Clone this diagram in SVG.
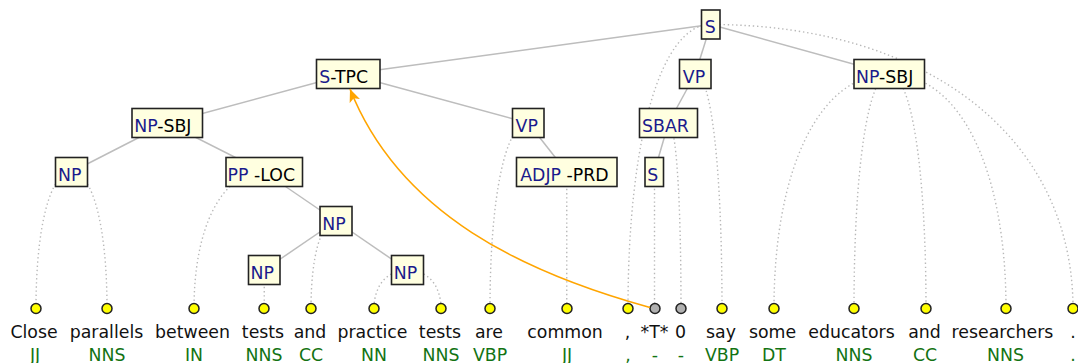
<svg xmlns="http://www.w3.org/2000/svg" width="1078" height="363" viewBox="0 0 1078 363">
<defs>
<style>
.box{fill:#ffffe0;stroke:#222;stroke-width:1.6}
.lbl{font-family:"DejaVu Sans",sans-serif;font-size:17.33px;fill:#000}
.cat{fill:#1a1a8c}
.edge{stroke:#bdbdbd;stroke-width:1.5;fill:none}
.dot{stroke:#b8b8b8;stroke-width:1.4;stroke-dasharray:1.4 2.8;fill:none}
.tok{fill:#ffff00;stroke:#222;stroke-width:1.5}
.emp{fill:#b0b0b0;stroke:#222;stroke-width:1.5}
.word{font-family:"DejaVu Sans",sans-serif;font-size:17.33px;fill:#111;text-anchor:middle}
.tag{font-family:"DejaVu Sans",sans-serif;font-size:17.33px;fill:#137313;text-anchor:middle}
.trace{stroke:#ffa500;stroke-width:1.6;fill:none}
</style>
<marker id="arr" markerUnits="userSpaceOnUse" markerWidth="14" markerHeight="12" refX="13" refY="5.5" orient="auto">
<path d="M0,0 L13,5.5 L0,11 L3,5.5 Z" fill="#ffa500"/>
</marker>
</defs>
<rect width="1078" height="363" fill="#fff"/>
<g id="connectors">
<line class="edge" x1="710.75" y1="24.5" x2="348.25" y2="74"/>
<line class="edge" x1="710.75" y1="24.5" x2="695.25" y2="74"/>
<line class="edge" x1="710.75" y1="24.5" x2="889.25" y2="74"/>
<line class="edge" x1="348.25" y1="74" x2="167.25" y2="123"/>
<line class="edge" x1="348.25" y1="74" x2="528.25" y2="123"/>
<line class="edge" x1="167.25" y1="123" x2="71.5" y2="172"/>
<line class="edge" x1="167.25" y1="123" x2="264.25" y2="172"/>
<line class="edge" x1="264.25" y1="172" x2="336" y2="221"/>
<line class="edge" x1="336" y1="221" x2="264.25" y2="270"/>
<line class="edge" x1="336" y1="221" x2="407.5" y2="270"/>
<line class="edge" x1="528.25" y1="123" x2="566.75" y2="172"/>
<line class="edge" x1="695.25" y1="74" x2="668.5" y2="123"/>
<line class="edge" x1="668.5" y1="123" x2="654.25" y2="172"/>
<path class="dot" d="M71.5,172 C50.2,172 36,226.6 36,308.5"/>
<path class="dot" d="M71.5,172 C92.8,172 107,226.6 107,308.5"/>
<path class="dot" d="M264.25,172 C222.1,172 194,226.6 194,308.5"/>
<path class="dot" d="M336,221 C321,221 311,256 311,308.5"/>
<path class="dot" d="M264.25,270 L264.25,308.5"/>
<path class="dot" d="M407.5,270 C387.4,270 374,285.4 374,308.5"/>
<path class="dot" d="M407.5,270 C427.6,270 441,285.4 441,308.5"/>
<path class="dot" d="M528.25,123 C505.3,123 490,197.2 490,308.5"/>
<path class="dot" d="M566.75,172 L566.75,308.5"/>
<path class="dot" d="M710.75,24.5 C661.1,24.5 628,138.1 628,308.5"/>
<path class="dot" d="M654.5,172 L654.5,308.5"/>
<path class="dot" d="M668.5,123 C676,123 681,197.2 681,308.5"/>
<path class="dot" d="M695.25,74 C711.3,74 722,167.8 722,308.5"/>
<path class="dot" d="M889.25,74 C820.1,74 774,167.8 774,308.5"/>
<path class="dot" d="M889.25,74 C868.1,74 854,167.8 854,308.5"/>
<path class="dot" d="M889.25,74 C911.3,74 926,167.8 926,308.5"/>
<path class="dot" d="M889.25,74 C959.3,74 1006,167.8 1006,308.5"/>
<path class="dot" d="M710.75,24.5 C928.1,24.5 1073,138.1 1073,308.5"/>
</g>
<g id="n-S"><rect class="box" x="701.5" y="10" width="18.5" height="29"/><text class="lbl" x="704.7" y="33"><tspan class="cat">S</tspan></text></g>
<g id="n-VP1"><rect class="box" x="679.5" y="59.5" width="31.5" height="29"/><text class="lbl" x="682.8" y="82.5"><tspan class="cat">VP</tspan></text></g>
<g id="n-NPSBJ2"><rect class="box" x="854" y="59.5" width="70.5" height="29"/><text class="lbl" x="856" y="82.5"><tspan class="cat">NP</tspan>-SBJ</text></g>
<g id="n-STPC"><rect class="box" x="316.5" y="59.5" width="63.5" height="29"/><text class="lbl" x="319.3" y="82.5"><tspan class="cat">S</tspan>-TPC</text></g>
<g id="n-NPSBJ1"><rect class="box" x="132" y="108.5" width="70.5" height="29"/><text class="lbl" x="134.2" y="131.5"><tspan class="cat">NP</tspan>-SBJ</text></g>
<g id="n-VP2"><rect class="box" x="512.5" y="108.5" width="31.5" height="29"/><text class="lbl" x="515.6" y="131.5"><tspan class="cat">VP</tspan></text></g>
<g id="n-SBAR"><rect class="box" x="639.5" y="108.5" width="58" height="29"/><text class="lbl" x="642" y="131.5"><tspan class="cat">SBAR</tspan></text></g>
<g id="n-NP1"><rect class="box" x="55.5" y="157.5" width="32" height="29"/><text class="lbl" x="58.1" y="180.5"><tspan class="cat">NP</tspan></text></g>
<g id="n-PPLOC"><rect class="box" x="226" y="157.5" width="76.5" height="29"/><text class="lbl" x="227.6" y="180.5"><tspan class="cat">PP</tspan> -LOC</text></g>
<g id="n-ADJPPRD"><rect class="box" x="516.5" y="157.5" width="100.5" height="29"/><text class="lbl" x="520.2" y="180.5"><tspan class="cat">ADJP</tspan> -PRD</text></g>
<g id="n-S2"><rect class="box" x="645" y="157.5" width="18.5" height="29"/><text class="lbl" x="647.2" y="180.5"><tspan class="cat">S</tspan></text></g>
<g id="n-NP2"><rect class="box" x="320" y="206.5" width="32" height="29"/><text class="lbl" x="322.2" y="229.5"><tspan class="cat">NP</tspan></text></g>
<g id="n-NP3"><rect class="box" x="248.5" y="255.5" width="31.5" height="29"/><text class="lbl" x="250.5" y="278.5"><tspan class="cat">NP</tspan></text></g>
<g id="n-NP4"><rect class="box" x="391.5" y="255.5" width="32" height="29"/><text class="lbl" x="393.8" y="278.5"><tspan class="cat">NP</tspan></text></g>
<g id="tokens">
<g id="t1"><circle class="tok" cx="36" cy="308.5" r="5"/><text class="word" x="34" y="337.5">Close</text><text class="tag" x="35" y="360.5">JJ</text></g>
<g id="t2"><circle class="tok" cx="107" cy="308.5" r="5"/><text class="word" x="106.5" y="337.5">parallels</text><text class="tag" x="107" y="360.5">NNS</text></g>
<g id="t3"><circle class="tok" cx="194" cy="308.5" r="5"/><text class="word" x="192.5" y="337.5">between</text><text class="tag" x="194" y="360.5">IN</text></g>
<g id="t4"><circle class="tok" cx="264" cy="308.5" r="5"/><text class="word" x="263" y="337.5">tests</text><text class="tag" x="264" y="360.5">NNS</text></g>
<g id="t5"><circle class="tok" cx="311" cy="308.5" r="5"/><text class="word" x="310" y="337.5">and</text><text class="tag" x="311" y="360.5">CC</text></g>
<g id="t6"><circle class="tok" cx="374" cy="308.5" r="5"/><text class="word" x="372.5" y="337.5">practice</text><text class="tag" x="374" y="360.5">NN</text></g>
<g id="t7"><circle class="tok" cx="441" cy="308.5" r="5"/><text class="word" x="440" y="337.5">tests</text><text class="tag" x="441" y="360.5">NNS</text></g>
<g id="t8"><circle class="tok" cx="490" cy="308.5" r="5"/><text class="word" x="489" y="337.5">are</text><text class="tag" x="490" y="360.5">VBP</text></g>
<g id="t9"><circle class="tok" cx="567" cy="308.5" r="5"/><text class="word" x="565" y="337.5">common</text><text class="tag" x="567" y="360.5">JJ</text></g>
<g id="t10"><circle class="tok" cx="628" cy="308.5" r="5"/><text class="word" x="627.5" y="337.5">,</text><text class="tag" x="628" y="360.5">,</text></g>
<g id="t11"><circle class="emp" cx="655" cy="308.5" r="5"/><text class="word" x="654.5" y="337.5">*T*</text><text class="tag" x="655" y="360.5">-</text></g>
<g id="t12"><circle class="emp" cx="681" cy="308.5" r="5"/><text class="word" x="680.5" y="337.5">0</text><text class="tag" x="681" y="360.5">-</text></g>
<g id="t13"><circle class="tok" cx="722" cy="308.5" r="5"/><text class="word" x="721" y="337.5">say</text><text class="tag" x="722" y="360.5">VBP</text></g>
<g id="t14"><circle class="tok" cx="774" cy="308.5" r="5"/><text class="word" x="772.5" y="337.5">some</text><text class="tag" x="774" y="360.5">DT</text></g>
<g id="t15"><circle class="tok" cx="854" cy="308.5" r="5"/><text class="word" x="851.5" y="337.5">educators</text><text class="tag" x="854" y="360.5">NNS</text></g>
<g id="t16"><circle class="tok" cx="926" cy="308.5" r="5"/><text class="word" x="924.5" y="337.5">and</text><text class="tag" x="925" y="360.5">CC</text></g>
<g id="t17"><circle class="tok" cx="1006" cy="308.5" r="5"/><text class="word" x="1002.5" y="337.5">researchers</text><text class="tag" x="1005.5" y="360.5">NNS</text></g>
<g id="t18"><circle class="tok" cx="1073" cy="308.5" r="5"/><text class="word" x="1073" y="337.5">.</text><text class="tag" x="1073" y="360.5">.</text></g>
</g>
<g id="trace">
<path class="trace" d="M650,307.5 C525,273 400,215 350,89" marker-end="url(#arr)"/>
</g>
</svg>
